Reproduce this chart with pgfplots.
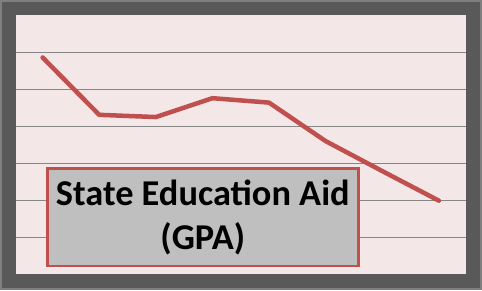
\documentclass[border=0pt]{standalone}
\usepackage{pgfplots}
\pgfplotsset{compat=1.18}
\usepackage{fontspec}
\setmainfont{Carlito}
\definecolor{frame}{HTML}{595959}
\definecolor{frameedge}{HTML}{7F7F7F}
\definecolor{plotbg}{HTML}{F3E7E7}
\definecolor{gridc}{HTML}{868686}
\definecolor{linec}{HTML}{C0504D}
\definecolor{boxfill}{HTML}{BFBFBF}
\begin{document}
\begin{tikzpicture}[x=1bp,y=1bp]
\path[use as bounding box] (0,0) rectangle (482,290);
\fill[frame] (0,0) rectangle (482,290);
\draw[frameedge, line width=2bp] (1,1) rectangle (481,289);
\begin{axis}[
  at={(16bp,15.7bp)}, anchor=south west,
  scale only axis, width=450bp, height=259bp,
  xmin=-0.47, xmax=7.48, ymin=0, ymax=7,
  xtick=\empty, ytick={1,2,3,4,5,6}, yticklabels={},
  major tick length=0pt,
  ymajorgrids, grid style={gridc, line width=1.1bp},
  axis line style={draw=none},
  axis background/.style={fill=plotbg},
  clip=false,
]
\addplot[linec, line width=4.5bp, line join=round, line cap=round, mark=none]
  coordinates {(0,5.86) (1,4.31) (2,4.25) (3,4.76) (4,4.64) (5,3.60) (6,2.79) (7,1.99)};
\end{axis}
\node[draw=linec, line width=2.5bp, fill=boxfill, minimum width=311bp, minimum height=97.7bp,
  inner sep=0pt, align=center, font=\fontsize{36.5}{44}\selectfont\bfseries]
  at (202.8,72.85) {State Education Aid\\(GPA)};
\end{tikzpicture}
\end{document}
